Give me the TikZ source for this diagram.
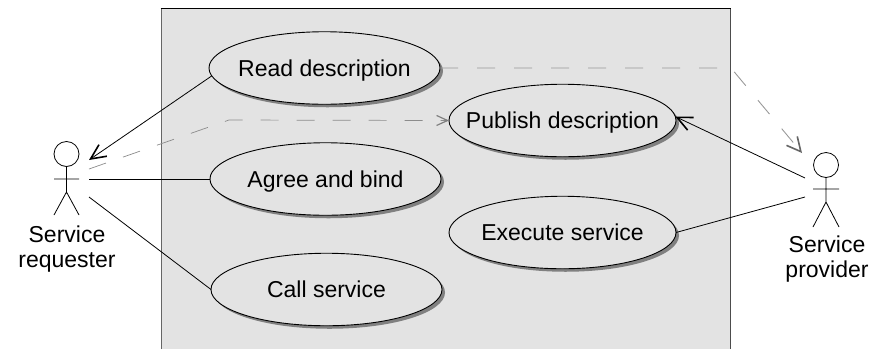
\documentclass[tikz,border=0pt]{standalone}
\usepackage{fontspec}
\setmainfont{Liberation Sans}
\usetikzlibrary{arrows.meta,shapes.geometric,shadows}
\definecolor{panelgray}{HTML}{E3E3E3}
\tikzset{
 uc/.style={draw=black,line width=0.9pt,fill=panelgray,ellipse,inner sep=0pt,outer sep=0pt,minimum width=#1,minimum height=72.5pt,
   text height=20pt,text depth=4pt,
   font=\fontsize{23}{26}\selectfont,general shadow={fill=black!50,shadow xshift=3pt,shadow yshift=-3pt}},
 lbl/.style={align=center,font=\fontsize{23}{25.6}\selectfont,inner sep=0pt},
 limb/.style={draw=black,line width=0.8pt},
 head/.style={draw=black,line width=0.8pt,circle,minimum size=25pt,inner sep=0pt,outer sep=0pt},
 dep/.style={draw=black!45,line width=0.7pt,dash pattern=on 18pt off 18pt,-{Straight Barb[length=11pt,width=10pt,line width=1.2pt,black!50]}},
 depb/.style={draw=black!40,line width=0.9pt,dash pattern=on 18pt off 19pt,-{Straight Barb[length=14pt,width=14pt,line width=1.6pt,black!60]}},
 assoc/.style={draw=black,line width=0.8pt},
 nav/.style={draw=black,line width=0.8pt,-{Straight Barb[length=15pt,width=14pt,line width=1.6pt]}},
}
\newcommand{\uctext}[1]{\makebox[0pt]{#1}}
\begin{document}
\begin{tikzpicture}[x=1pt,y=-1pt]
\useasboundingbox (0,0) rectangle (888,349);
\path[fill=panelgray] (161,8) rectangle (730,349);
\draw[black!60,line width=1pt] (161,349) -- (161,8);
\draw[black!70,line width=1pt] (730,8) -- (730,349);
\draw[black,line width=1pt] (160.5,8) -- (730.5,8);
% use cases
\node[uc=231pt] (read) at (324.5,68) {\uctext{Read description}};
\node[uc=227pt] (publish) at (562.5,120.5) {\uctext{Publish description}};
\node[uc=231pt] (agree) at (325.5,179) {\uctext{Agree and bind}};
\node[uc=231pt] (call) at (326.5,289.5) {\uctext{Call service}};
\node[uc=227pt] (exec) at (562.5,232.5) {\uctext{Execute service}};
% actors
\node[head] (reqhead) at (66.5,154) {};
\coordinate (reqhip) at (66.5,192);
\coordinate (reqla) at (54,179); \coordinate (reqra) at (79,179);
\coordinate (reqll) at (54,215); \coordinate (reqrl) at (79,215);
\draw[limb] (reqhead.south) -- (reqhip) -- (reqll) (reqhip) -- (reqrl) (reqla) -- (reqra);
\node[lbl] (reqlabel) at (67,249) {Service\\requester};
\node[head] (provhead) at (826,165) {};
\coordinate (provhip) at (826,202);
\coordinate (provla) at (813,189); \coordinate (provra) at (839,189);
\coordinate (provll) at (813,227); \coordinate (provrl) at (839,227);
\draw[limb] (provhead.south) -- (provhip) -- (provll) (provhip) -- (provrl) (provla) -- (provra);
\node[lbl] (provlabel) at (827,259) {Service\\provider};
% connector end points
\coordinate (reqa) at (89,160);
\coordinate (reqb) at (89,169);
\coordinate (reqc) at (89,179);
\coordinate (reqd) at (89,197);
\coordinate (bendl) at (229,120);
\coordinate (bendr) at (731,68);
\coordinate (prova) at (802,153);
\coordinate (provb) at (805,178);
\coordinate (provc) at (805,197);
% connectors
\draw[nav] (read.184) -- (reqa);
\draw[dep] (reqb) -- (bendl) -- (publish.west);
\draw[assoc] (reqc) -- (agree.west);
\draw[assoc] (reqd) -- (call.west);
\draw[depb] (read.east) -- (bendr) -- (prova);
\draw[nav] (provb) -- (publish.2);
\draw[assoc] (provc) -- (exec.east);
\end{tikzpicture}
\end{document}
